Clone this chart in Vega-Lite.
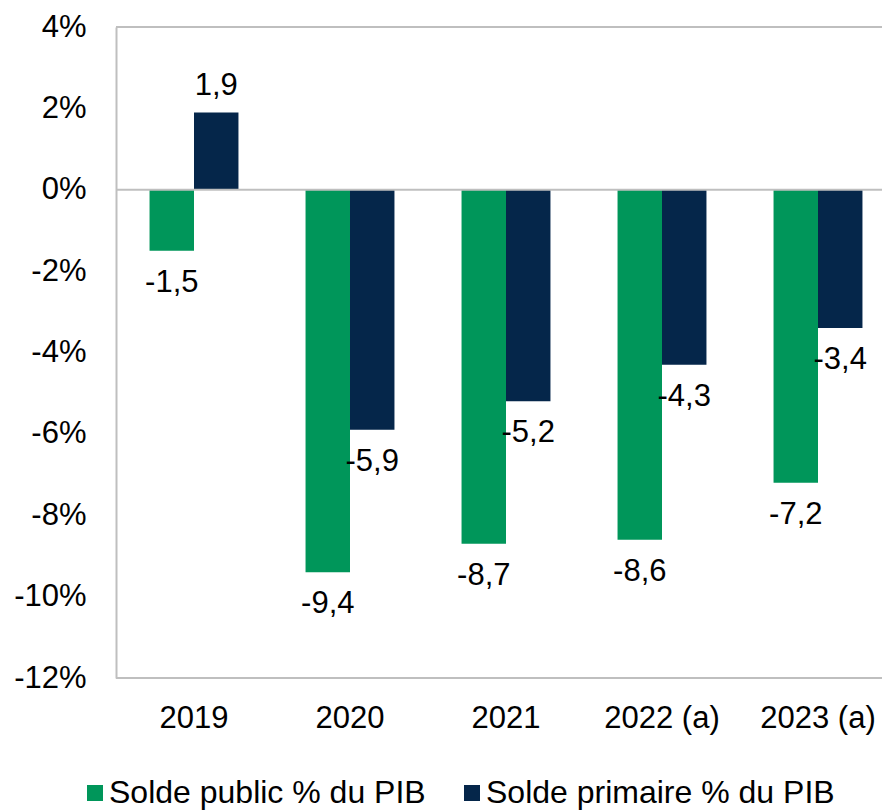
{
  "$schema": "https://vega.github.io/schema/vega-lite/v6.json",
  "width": 766,
  "height": 651,
  "autosize": {"type": "none"},
  "padding": {"left": 116, "top": 27, "right": 0, "bottom": 132},
  "background": "white",
  "config": {
    "view": {"stroke": null},
    "font": "Liberation Sans",
    "axis": {"labelFont": "Liberation Sans", "labelColor": "#000000", "labelFontSize": 31, "grid": false, "ticks": false, "tickSize": 0, "title": null}
  },
  "data": {
    "values": [
      {"annee": "2019", "serie": "Solde public % du PIB", "valeur": -1.5},
      {"annee": "2019", "serie": "Solde primaire % du PIB", "valeur": 1.9},
      {"annee": "2020", "serie": "Solde public % du PIB", "valeur": -9.4},
      {"annee": "2020", "serie": "Solde primaire % du PIB", "valeur": -5.9},
      {"annee": "2021", "serie": "Solde public % du PIB", "valeur": -8.7},
      {"annee": "2021", "serie": "Solde primaire % du PIB", "valeur": -5.2},
      {"annee": "2022 (a)", "serie": "Solde public % du PIB", "valeur": -8.6},
      {"annee": "2022 (a)", "serie": "Solde primaire % du PIB", "valeur": -4.3},
      {"annee": "2023 (a)", "serie": "Solde public % du PIB", "valeur": -7.2},
      {"annee": "2023 (a)", "serie": "Solde primaire % du PIB", "valeur": -3.4}
    ]
  },
  "transform": [
    {"calculate": "replace(toString(datum.valeur), '.', ',')", "as": "etiquette"}
  ],
  "encoding": {
    "x": {
      "field": "annee", "type": "nominal", "sort": null,
      "scale": {"paddingInner": 0.43, "paddingOuter": 0.215, "range": [0, 780]},
      "axis": {"domain": false, "labelAngle": 0, "labelPadding": 25, "labelFontSize": 31}
    },
    "y": {
      "field": "valeur", "type": "quantitative",
      "scale": {"domain": [-12, 4], "nice": false, "zero": false},
      "axis": {"values": [-12, -10, -8, -6, -4, -2, 0, 2, 4], "labelExpr": "datum.value + '%'", "domain": true, "domainColor": "#BFBFBF", "domainWidth": 2, "labelPadding": 30, "labelFontSize": 31}
    },
    "xOffset": {"field": "serie", "type": "nominal", "sort": ["Solde public % du PIB", "Solde primaire % du PIB"]}
  },
  "layer": [
    {
      "mark": {"type": "bar"},
      "encoding": {
        "color": {
          "field": "serie", "type": "nominal",
          "scale": {"domain": ["Solde public % du PIB", "Solde primaire % du PIB"], "range": ["#00965A", "#05264A"]},
          "legend": {
            "title": null, "orient": "none", "direction": "horizontal",
            "legendX": -37, "legendY": 750,
            "symbolType": "square", "symbolSize": 256, "symbolStrokeWidth": 0,
            "labelFontSize": 32, "labelFont": "Liberation Sans", "labelColor": "#000000",
            "labelOffset": -2, "columnPadding": 30, "labelLimit": 600
          }
        }
      }
    },
    {
      "transform": [{"filter": "datum.valeur < 0"}],
      "mark": {"type": "text", "fontSize": 31, "font": "Liberation Sans", "color": "#000000", "baseline": "middle", "dy": 32},
      "encoding": {"text": {"field": "etiquette"}}
    },
    {
      "transform": [{"filter": "datum.valeur >= 0"}],
      "mark": {"type": "text", "fontSize": 31, "font": "Liberation Sans", "color": "#000000", "baseline": "middle", "dy": -26},
      "encoding": {"text": {"field": "etiquette"}}
    },
    {
      "data": {"values": [{"ligne": 4}, {"ligne": 0}, {"ligne": -12}]},
      "mark": {"type": "rule", "color": "#BFBFBF", "strokeWidth": 2},
      "encoding": {
        "y": {"field": "ligne", "type": "quantitative"},
        "x": null,
        "xOffset": null
      }
    }
  ]
}
